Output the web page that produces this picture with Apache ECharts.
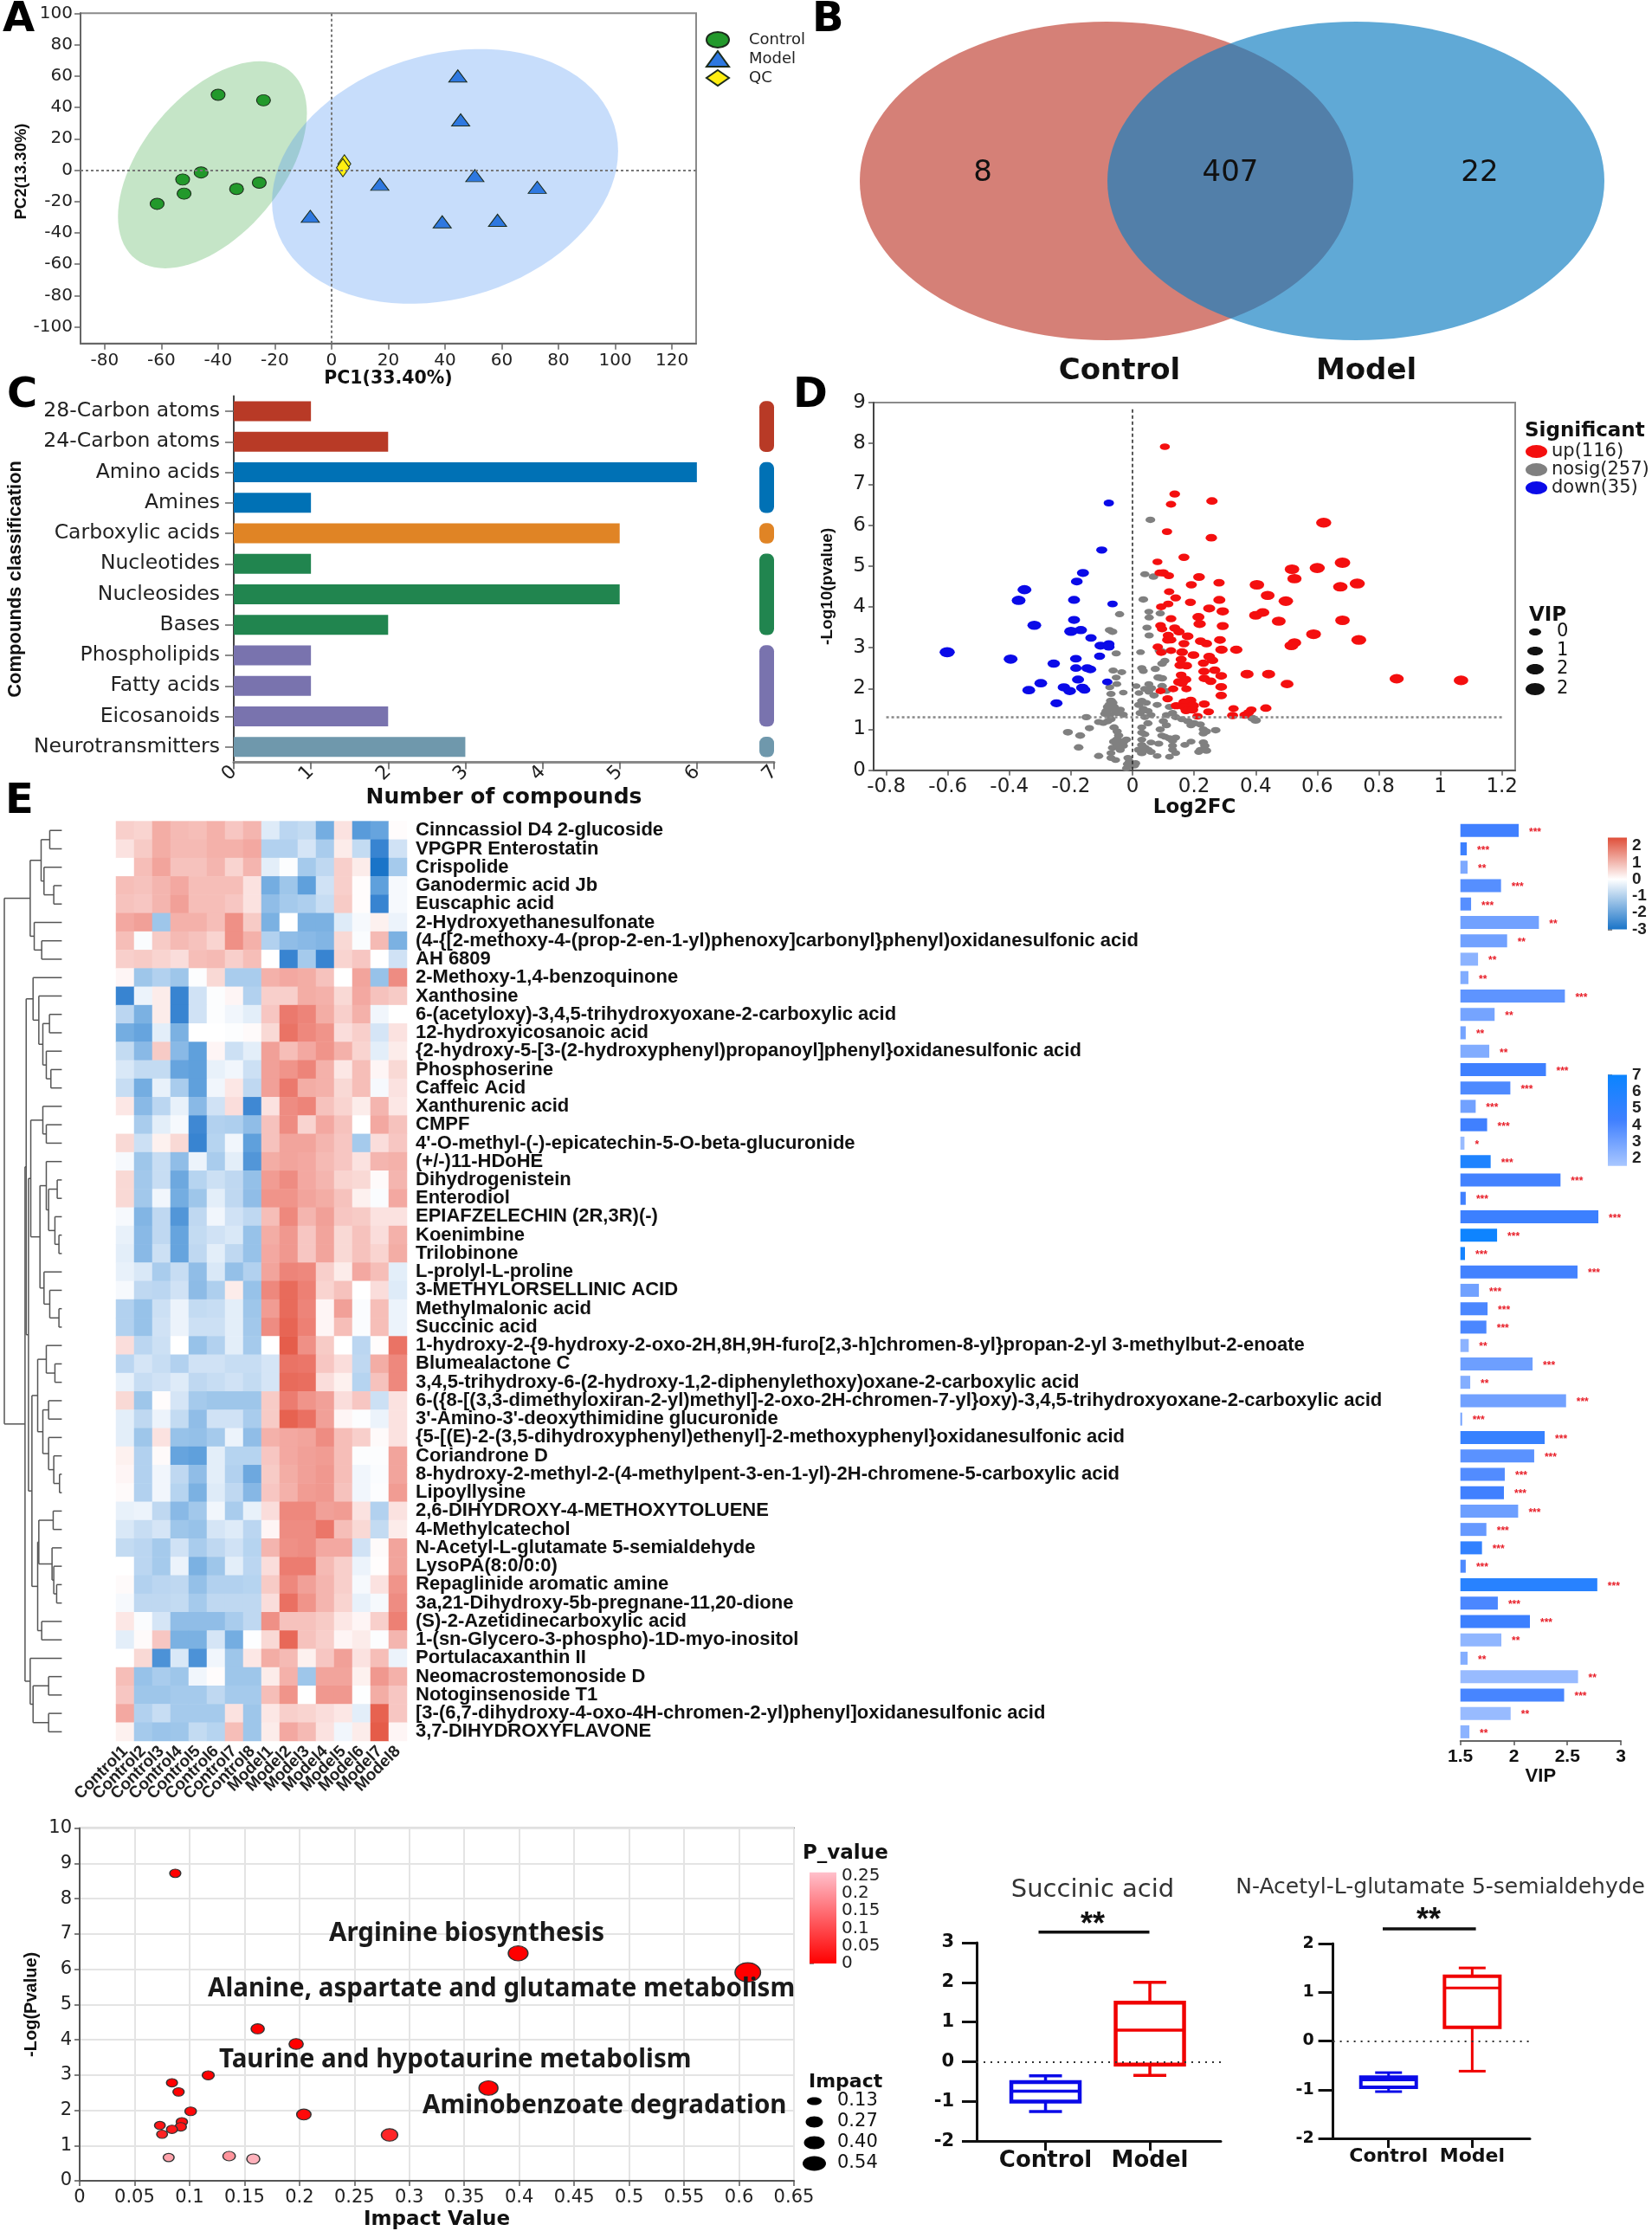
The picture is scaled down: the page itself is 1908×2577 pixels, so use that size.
<!DOCTYPE html>
<html>
<head>
<meta charset="utf-8">
<title>Metabolomics figure</title>
<script src="https://cdn.jsdelivr.net/npm/echarts@6/dist/echarts.min.js"></script>
<style>
html, body { margin: 0; padding: 0; background: #fff; }
#chart1 { width: 1908px; height: 2577px; }
</style>
</head>
<body>
<div id="chart1"></div>
<script>
// Panel A: PCA scores
const pcaControl = [[-61.5,-21.5],[-52.5,-6],[-52,-15],[-46,-1.5],[-40,48],[-24,44.5],[-33.5,-12],[-25.5,-8]];
const pcaModel = [[44.5,60],[45.5,32],[50.5,-3.5],[17,-9],[72.5,-11],[-7.5,-29.5],[39,-33],[58.5,-32]];
const pcaQC = [[4.5,4],[4,1.5]];
// confidence ellipses: centre x, centre y, half width, half height, correlation
const ellipseControl = [-42,3.4,33.3,66,0.5];
const ellipseModel = [40,-4,61,81.2,0.2];

// Panel B: venn counts
const vennCounts = [8,407,22];
const vennNames = ['Control','Model'];

// Panel C: compound classes
const classNames = ['28-Carbon atoms','24-Carbon atoms','Amino acids','Amines','Carboxylic acids','Nucleotides','Nucleosides','Bases','Phospholipids','Fatty acids','Eicosanoids','Neurotransmitters'];
const classCounts = [1,2,6,1,5,1,5,2,1,1,2,3];
const classGroups = [[0,1,'#b83a26'],[2,3,'#0071b5'],[4,4,'#e08425'],[5,7,'#21854f'],[8,10,'#7973ae'],[11,11,'#6f98ac']];

// Panel D: volcano, [log2FC, -log10p, VIP]
const upPoints = [[.105,7.92,.9],[.137,6.76,1.1],[.125,6.51,1],[.258,6.59,1.3],[.112,5.84,1],[.256,5.69,1.3],[.621,6.06,2.4],[.167,5.21,1.2],[.081,5.1,.9],[.682,5.08,2.5],[.6,4.95,2.4],[.518,4.92,2.2],[.526,4.69,2.1],[.088,4.83,1],[.1,4.83,1.2],[.118,4.76,1],[.216,4.73,1.4],[.191,4.54,1.2],[.281,4.59,1.3],[.404,4.54,2.2],[.73,4.57,2.4],[.675,4.49,2.2],[.119,4.37,1],[.439,4.28,2],[.14,4.22,1.1],[.498,4.14,2.2],[.282,4.17,1.5],[.188,4.11,1.2],[.116,4.07,1],[.093,4,1],[.249,3.96,1.5],[.293,3.89,1.6],[.423,3.86,1.8],[.4,3.79,1.8],[.214,3.75,1.5],[.125,3.71,1.1],[.475,3.65,2],[.682,3.67,2.2],[.218,3.58,1.6],[.293,3.53,1.5],[.091,3.54,1.1],[.096,3.46,1],[.137,3.48,1.2],[.151,3.39,1.3],[.116,3.3,1.2],[.588,3.33,2.3],[.179,3.28,1.4],[.114,3.19,1.2],[.125,3.19,1.1],[.284,3.19,1.4],[.221,3.16,1.3],[.526,3.12,1.9],[.735,3.19,2.3],[.24,3.1,1.3],[.167,3.1,1.2],[.516,3.05,2],[.082,3.02,1],[.289,2.95,1.6],[.337,2.95,1.6],[.125,2.93,1],[.161,2.89,1.4],[.093,2.88,1],[.198,2.82,1.4],[.249,2.78,1.4],[.158,2.71,1.2],[.26,2.69,1.3],[.23,2.62,1.2],[.154,2.57,1.2],[.175,2.56,1.3],[.232,2.42,1.3],[.267,2.45,1.3],[.372,2.35,1.8],[.442,2.35,1.8],[.288,2.31,1.4],[.158,2.33,1.1],[.233,2.25,1.3],[.172,2.22,1.4],[.151,2.16,1.4],[.858,2.24,2.1],[1.067,2.2,2.2],[.254,2.18,1.3],[.161,2.13,1.2],[.502,2.11,1.7],[.288,2.04,1.4],[.132,1.99,1],[.175,1.99,1],[.091,1.94,.9],[.288,1.83,1.3],[.114,1.75,1.1],[.189,1.71,1.3],[.167,1.67,1.2],[.233,1.62,1.2],[.142,1.58,1.2],[.196,1.58,1.5],[.167,1.55,1.2],[.433,1.52,1.3],[.328,1.51,1],[.386,1.48,1],[.174,1.46,1.2],[.195,1.48,1.3],[.247,1.43,1.1],[.377,1.41,1.1],[.325,1.34,1.2],[.211,1.32,1],[.365,1.35,1.2]];
const downPoints = [[-.077,6.54,1],[-.1,5.39,1.2],[-.161,4.83,1.5],[-.181,4.62,1.4],[-.351,4.42,2],[-.37,4.16,2],[-.19,4.17,1.5],[-.065,4.07,1],[-.19,3.68,1.5],[-.319,3.55,2],[-.168,3.43,1.6],[-.2,3.4,1.9],[-.135,3.24,1.3],[-.104,3.05,1.5],[-.077,3.09,1.3],[-.077,3.02,1.3],[-.107,2.79,1.2],[-.602,2.89,2.4],[-.396,2.72,2],[-.184,2.73,1.4],[-.256,2.61,1.6],[-.184,2.5,1.3],[-.147,2.5,1.4],[-.137,2.47,1.4],[-.177,2.22,1.5],[-.082,2.16,1],[-.298,2.13,1.7],[-.223,2.03,1.6],[-.337,1.96,1.7],[-.163,2.02,1.6],[-.204,1.94,1.6],[-.156,1.97,1.4],[-.247,1.64,1.5]];
const nosigPoints = [[.058,6.13,.8],[.04,4.8,.7],[.068,4.74,.8],[.035,4.18,.8],[-.042,3.82,.7],[.053,3.88,.6],[.054,3.74,.7],[.09,3.84,.7],[.047,3.49,.7],[-.075,3.43,.7],[-.065,3.39,.8],[.054,3.3,.7],[.026,2.89,.5],[.088,2.93,.9],[.096,2.9,1],[-.053,2.86,.7],[.105,2.68,.6],[.096,2.61,.8],[.03,2.5,.7],[.035,2.43,.6],[.074,2.48,.7],[-.063,2.44,.7],[-.035,2.4,.6],[-.053,2.27,.6],[.084,2.27,.9],[.096,2.25,.9],[-.051,2.11,.6],[.053,2.11,.6],[-.074,2.03,.6],[.012,2.06,.5],[.04,1.99,.7],[.061,2.01,.8],[.096,2.06,.8],[.11,1.94,.6],[.053,1.92,.6],[-.07,1.87,.7],[-.03,1.9,.5],[.021,1.89,.5],[.07,1.83,.7],[-.07,1.7,.9],[-.075,1.6,.9],[-.065,1.65,.9],[-.08,1.55,.9],[-.06,1.55,.8],[-.07,1.5,.9],[-.055,1.45,.8],[-.085,1.45,.8],[-.09,1.38,.7],[-.075,1.35,.8],[-.05,1.4,.7],[-.04,1.48,.7],[-.03,1.36,.6],[-.07,1.25,.7],[.03,1.7,.7],[.02,1.6,.7],[.045,1.65,.6],[.035,1.5,.7],[.025,1.4,.7],[.05,1.45,.7],[.06,1.35,.6],[.04,1.3,.6],[.08,1.6,.6],[.12,1.55,.7],[.13,1.4,.7],[.11,1.35,.6],[.14,1.3,.7],[-.15,1.3,.8],[-.14,1.03,.7],[-.11,1.18,.7],[-.095,1.16,.7],[-.08,1.2,.7],[-.06,1.05,.7],[-.05,.95,.7],[-.045,.85,.7],[-.21,.93,.9],[-.17,.85,.9],[-.175,.56,.8],[-.06,.7,.9],[-.05,.75,.9],[-.04,.65,.9],[-.03,.7,.9],[-.05,.6,.9],[-.02,.75,.7],[-.03,.6,.7],[-.04,.5,.7],[-.065,.55,.7],[-.07,.42,.6],[-.11,.35,.7],[-.07,.3,.6],[-.055,.25,.6],[-.015,.3,.6],[-.01,.22,.6],[-.015,.15,.9],[-.01,.1,.9],[.005,.12,.9],[.01,.17,.7],[-.02,.05,.5],[.03,.75,.6],[.03,.62,.7],[.04,.55,.8],[.02,.5,.8],[.05,.5,.8],[.03,.42,.8],[.06,.45,.7],[.08,.35,.5],[.12,.33,.5],[.14,.42,.6],[.13,.5,.6],[.13,.6,.6],[.085,.65,.7],[.06,.68,.6],[.14,.8,.6],[.12,.78,.7],[.17,.62,.6],[.19,.7,.6],[.23,.68,.7],[.235,.6,.7],[.22,.5,.6],[.24,.48,.8],[.215,.45,.6],[.23,.9,.7],[.24,.95,.7],[.27,.98,.8],[.23,1,.7],[.2,1.15,.8],[.18,1.2,.8],[.16,1.25,.7],[.19,1.1,.7],[.22,1.12,.7],[.4,1.22,1],[.39,1.27,1],[.11,1.1,.7],[.09,1,.7],[.1,1.2,.7],[.05,1.15,.7],[.03,1.05,.6],[.03,.92,.6],[.04,.88,.6],[.095,.85,.6],[.105,.82,.6],[.13,.72,.7]];

// Panel E: heatmap rows, dendrogram and VIP bars
const compoundNames = ['Cinncassiol D4 2-glucoside','VPGPR Enterostatin','Crispolide','Ganodermic acid Jb','Euscaphic acid','2-Hydroxyethanesulfonate','(4-{[2-methoxy-4-(prop-2-en-1-yl)phenoxy]carbonyl}phenyl)oxidanesulfonic acid','AH 6809','2-Methoxy-1,4-benzoquinone','Xanthosine','6-(acetyloxy)-3,4,5-trihydroxyoxane-2-carboxylic acid','12-hydroxyicosanoic acid','{2-hydroxy-5-[3-(2-hydroxyphenyl)propanoyl]phenyl}oxidanesulfonic acid','Phosphoserine','Caffeic Acid','Xanthurenic acid','CMPF',"4'-O-methyl-(-)-epicatechin-5-O-beta-glucuronide",'(+/-)11-HDoHE','Dihydrogenistein','Enterodiol','EPIAFZELECHIN (2R,3R)(-)','Koenimbine','Trilobinone','L-prolyl-L-proline','3-METHYLORSELLINIC ACID','Methylmalonic acid','Succinic acid','1-hydroxy-2-{9-hydroxy-2-oxo-2H,8H,9H-furo[2,3-h]chromen-8-yl}propan-2-yl 3-methylbut-2-enoate','Blumealactone C','3,4,5-trihydroxy-6-(2-hydroxy-1,2-diphenylethoxy)oxane-2-carboxylic acid','6-({8-[(3,3-dimethyloxiran-2-yl)methyl]-2-oxo-2H-chromen-7-yl}oxy)-3,4,5-trihydroxyoxane-2-carboxylic acid',"3'-Amino-3'-deoxythimidine glucuronide",'{5-[(E)-2-(3,5-dihydroxyphenyl)ethenyl]-2-methoxyphenyl}oxidanesulfonic acid','Coriandrone D','8-hydroxy-2-methyl-2-(4-methylpent-3-en-1-yl)-2H-chromene-5-carboxylic acid','Lipoyllysine','2,6-DIHYDROXY-4-METHOXYTOLUENE','4-Methylcatechol','N-Acetyl-L-glutamate 5-semialdehyde','LysoPA(8:0/0:0)','Repaglinide aromatic amine','3a,21-Dihydroxy-5b-pregnane-11,20-dione','(S)-2-Azetidinecarboxylic acid','1-(sn-Glycero-3-phospho)-1D-myo-inositol','Portulacaxanthin II','Neomacrostemonoside D','Notoginsenoside T1','[3-(6,7-dihydroxy-4-oxo-4H-chromen-2-yl)phenyl]oxidanesulfonic acid','3,7-DIHYDROXYFLAVONE'];
const sampleNames = ['Control1','Control2','Control3','Control4','Control5','Control6','Control7','Control8','Model1','Model2','Model3','Model4','Model5','Model6','Model7','Model8'];
const heatRows = [
[.5,.45,.9,.75,.7,.85,.6,.8,-.35,-.75,-.65,-1.7,.3,-2.1,-1.9,.03],
[.3,.55,.9,.75,.75,.85,.85,.95,-.85,-.85,-.45,-.95,.2,-.65,-2.6,-.5],
[0,.7,1,.65,.65,.8,.45,.8,-.3,-.03,-1,-.7,.5,.2,-3,-1],
[.7,.65,.8,.95,.7,.7,.7,.3,-1.7,-1.1,-2,-.5,.5,.03,-2,-.1],
[.65,.6,.8,1.05,.7,.7,.6,.3,-1.3,-1,-.9,-.6,.55,.03,-2.6,-.1],
[.95,1.05,-1.1,.85,.85,.7,1.25,.55,-1.6,0,-1.6,-1.6,-.35,-.1,.15,-.2],
[.7,-.05,.55,.75,.65,.45,1.25,.85,-.85,-1.3,-1.4,-1.5,.4,-.05,.75,-1.6],
[.5,.55,.45,.35,.7,.75,.5,.7,0,-2.6,-1,-2.6,.45,.6,0,-.5],
[.1,-1.1,-.85,-1.1,-.03,.4,-.95,-.95,.85,.95,.9,.65,0,1,-1.2,1.3],
[-2.6,-.2,.2,-2.6,-.5,-.03,.1,-.85,.5,.5,.9,.85,.4,.95,.65,.55],
[-.75,-1.6,.2,-2.6,-.5,-.03,-.15,-.3,.6,1.55,1.4,.9,.5,.85,-.15,0],
[-1.7,-1.9,-.3,-1.6,0,0,-.03,.05,.4,1.65,1.35,1.2,.35,.5,-.45,.3],
[-.65,-1.4,.55,-1.4,-2,.1,-.55,-.3,1.05,.7,.95,1.2,.85,.45,-.3,.2],
[-.4,-.65,-.65,-1.9,-2,-.25,-.15,-.55,1.05,1.2,1.4,.85,.25,.7,.1,.4],
[-.6,-1.7,-.25,-.95,-2,-.15,.25,-.7,1.05,1.55,.9,.85,.4,.7,-.1,.3],
[.25,-1.4,-.75,-.25,-1.4,-.5,.35,-2.5,.3,1.3,1.4,.65,.45,.2,.8,.25],
[0,-.95,-.3,-.1,-2.5,-.85,-.9,-1.3,.65,1.3,.45,.95,.65,0,.95,.65],
[.4,-.55,.15,.4,-2.6,-.8,-.15,-2,.65,1,1,.8,.6,-1,.35,.6],
[-.1,-1.1,-.6,-1.3,-.2,-.95,-.3,-2.2,.9,1,.95,.75,.6,.3,.8,.85],
[.4,-1.05,-.6,-1.8,-.8,-.55,-.7,-1.25,1.1,1.3,.95,.8,.45,.4,.05,.8],
[.4,-1.05,-.15,-1.7,-1.1,-.3,-.7,-1.3,1.2,1.2,1,.9,.65,.15,-.05,.95],
[-.1,-1.5,-.7,-2.2,-.7,-.15,-.5,-.7,.7,1.35,.8,1.05,.6,.55,.3,.3],
[-.25,-1.4,-.7,-1.9,-.65,-.5,-.4,-1.2,.9,1.15,.6,1,.4,.65,.35,.85],
[-.3,-1.4,-.55,-1.9,-.7,-.3,-.7,-1.2,.95,1.15,.6,1,.4,.65,.45,.9],
[-.25,-.4,-.95,-.6,-1.3,-.4,-1.25,-.85,1,1.4,1.35,.5,.2,.95,.7,-.3],
[-.1,-.7,-.75,-.5,-1.35,-.9,.2,-1.2,1.35,1.8,1.45,.45,.65,0,.35,-.35],
[-.85,-1.2,-.55,-.2,-.65,-.6,-.3,-1.1,1.1,1.8,1.4,.1,1.05,-.05,.7,-.2],
[-.85,-1.2,-.5,-.2,-.55,-.55,-.3,-1.05,1.3,1.9,1.45,.1,.7,-.05,.7,-.2],
[.35,-.75,-.55,0,-1.2,-.85,-.3,-1,0,2.05,1.25,.55,0,-.75,.03,1.65],
[-.75,-.45,-.6,-.85,-.5,-.5,-.6,-.6,-.45,1.65,1.6,.6,.35,-.7,.9,1.35],
[-.25,-.6,-.5,-.35,-.7,-.6,-.5,-.65,-.45,1.8,1.75,.35,.15,-.8,.65,1.35],
[.4,-1.1,.03,-.45,-1,-1.1,-1.1,-1.1,.55,1.5,1.2,1.05,.35,.6,-.55,.3],
[-.3,-.7,-.2,-.65,-1.3,-.5,-.5,-.95,.55,1.95,1.7,1.05,.1,-.03,-.2,.3],
[-.3,-1.1,.3,-1.2,-1.25,-1,-.2,-1.3,.85,.95,1,1.3,.7,.5,.05,.3],
[.15,-.85,.05,-1.9,-2,-.3,-.8,-.8,.6,.95,1.05,1.1,.7,-.03,-.03,1],
[.1,-.85,-.15,-.7,-1.3,-.3,-.85,-1.8,.55,.9,1.05,1.15,.7,-.15,-.05,1],
[.05,-.85,-.15,-.8,-1.6,-.35,-.7,-1.45,.6,.85,1.1,1.15,.65,-.15,-.03,1.1],
[-.25,-.2,-.7,-1.4,-1.05,-.15,-.95,-.25,.35,1.35,1.35,1.05,1.1,.3,-.85,.3],
[-.4,-.6,-.45,-1.1,-1.2,-.45,-.35,-.75,.1,1.3,1.3,1.6,.7,.4,-.65,.2],
[-.65,-.75,-1,-.5,-.95,-.7,-.5,-.8,.8,1.25,1.3,.95,.95,-.5,.05,1],
[0,-.75,-1,-.2,-1.6,-1.1,-.3,-.75,.35,1.5,1.5,.75,.5,-.2,.02,1],
[.05,-.85,-.75,-.7,-1.25,-.85,-.85,-.8,.55,1.35,1.05,.8,.5,-.1,.3,1.2],
[-.1,-.7,-.7,-.65,-1,-.7,-.7,-.7,.35,1.7,1.2,.8,.45,-.25,-.1,1.3],
[.25,-.05,-.45,-1.3,-1.3,-1.3,-.95,-.7,1.25,.65,.65,.55,.25,.1,.5,1.45],
[-.3,.05,.6,-1.6,-1.6,-.45,-1.7,-.02,.4,1.85,.65,.5,.1,.2,-.03,.8],
[0,.4,-2.3,-.4,-2.3,-.15,-1.1,.25,.9,.75,.15,.6,1.05,.3,.7,-.2],
[.7,-1.2,-.95,-1.1,-.15,.03,-1.1,-1.1,.2,.85,-1.1,1,1,.15,1.15,.85],
[.6,-1.1,-1.1,-1,-1,-.7,-1,-1,.7,1.2,0,1.15,1.15,-.02,.9,.6],
[.95,-.85,-.6,-1,-1,-1,.3,-1.1,.25,.5,.45,.35,.25,-.3,1.95,.6],
[.15,-1,-1.15,-1.1,-.65,-.8,.7,-1.1,.2,.95,.75,.3,-.15,.2,2.1,.1]
];
// nested merges: [height, left, right], a plain number is a row (1 based)
const dendroTree = [1,
  [.55, [.36,[.21,1,2],[.31,3,[.14,4,5]]], [.48,6,[.35,7,8]]],
  [.64,
    [.62,
      [.5,9,[.4,10,[.33,[.215,11,12],[.27,13,[.19,14,15]]]]],
      [.58,
        [.54,[.33,16,[.27,17,18]],[.38,[.27,19,[.23,[.08,20,21],[.12,22,[.05,23,24]]]],[.31,25,[.21,26,[.05,27,28]]]]],
        [.52,[.42,[.27,29,[.12,30,31]],[.33,[.23,32,33],[.23,34,[.14,35,[.04,36,37]]]]],[.42,[.4,[.15,38,39],[.17,40,[.14,41,[.09,42,43]]]],[.35,44,45]]]
      ]
    ],
    [.55,46,[.5,[.23,47,48],[.23,49,50]]]
  ]
];
const vipValues = [2.045,1.56,1.567,1.88,1.6,2.234,1.937,1.665,1.575,2.477,1.82,1.55,1.77,2.3,1.967,1.643,1.75,1.538,1.783,2.436,1.55,2.79,1.843,1.543,2.595,1.673,1.754,1.743,1.578,2.175,1.592,2.488,1.516,2.288,2.19,1.915,1.907,2.04,1.743,1.702,1.55,2.78,1.85,2.15,1.883,1.567,2.6,2.47,1.97,1.584];
const vipShade = [4.3,4.5,2.7,3.7,3.7,3,3,2.3,2.6,3.5,2.9,2.9,2.6,4.4,3.9,3,4.3,2,6,4.2,4.3,4.5,6.8,6.5,4.2,3,4,4,2.3,3.1,2.5,3,3,4.8,3.6,3.8,4.3,3.1,3.3,5,3.9,5.5,4,4.5,2.2,2.5,2,4.1,2,2.3];
const vipStars = ['***','***','**','***','***','**','**','**','**','***','**','**','**','***','***','***','***','*','***','***','***','***','***','***','***','***','***','***','**','***','**','***','***','***','***','***','***','***','***','***','***','***','***','***','**','**','**','***','**','**'];

// Bottom left: pathway bubbles
const pathwayImpact = [.087,.399,.608,.162,.197,.117,.084,.09,.372,.101,.204,.073,.093,.092,.084,.075,.282,.081,.136,.158];
const pathwayLogP = [8.72,6.45,5.91,4.31,3.88,2.99,2.78,2.52,2.63,1.97,1.88,1.57,1.67,1.53,1.46,1.32,1.3,.66,.7,.62];
const pathwayP = [0,0,0,0,0,.001,.002,.003,.002,.011,.013,.027,.021,.03,.035,.048,.05,.219,.2,.24];
const pathwayNames = ['Arginine biosynthesis','Alanine, aspartate and glutamate metabolism','Taurine and hypotaurine metabolism','Aminobenzoate degradation'];
const impactLegend = ['0.13','0.27','0.40','0.54'];

// Bottom right: box plots, [group, min, q1, median, q3, max]
const groupNames = ['Control','Model'];
const succinicBoxes = [[0,-1.25,-1,-.74,-.51,-.35],[1,-.34,-.07,.8,1.49,2]];
const glutamateBoxes = [[0,-1.04,-.95,-.8,-.74,-.65],[1,-.62,.28,1.09,1.33,1.5]];

const SANS = 'DejaVu Sans';
const ARIAL = 'Liberation Sans';
const ELLIPSE = 'path://M0 50A50 50 0 1 1 100 50A50 50 0 1 1 0 50Z';
const HEAT_COLORS = ['#1a74c8','#3f88d3','#5fa0dc','#82b5e4','#a5caec','#d0e2f5','#ffffff','#f8cfcb','#f2a49c','#ec7c70','#e65f4d','#df4f3a'];

const grids = [], xAxes = [], yAxes = [], seriesList = [], visualMaps = [], legends = [], elements = [];

const addPanel = (rect, xAxis, yAxis) => {
    const i = grids.length;
    grids.push(Object.assign({ containLabel: false }, rect));
    xAxes.push(Object.assign({ gridIndex: i }, xAxis));
    yAxes.push(Object.assign({ gridIndex: i }, yAxis));
    return i;
};
const txt = (x, y, text, font, extra) => {
    elements.push({
        type: 'text', silent: true, z: 100,
        style: Object.assign({ x, y, text, font, fill: '#111', textAlign: 'left', textVerticalAlign: 'middle' }, extra || {})
    });
};
const axisFont = (size, family, weight) => ({ fontFamily: family || SANS, fontSize: size, color: '#222', fontWeight: weight || 'normal' });
const nameFont = (size, family, padding) => ({ fontFamily: family || ARIAL, fontSize: size, fontWeight: 'bold', color: '#111', padding: padding || 0 });
const line = (color, width) => ({ show: true, onZero: false, lineStyle: { color, width } });
const tick = (length, color, width, values) => ({ show: true, length, lineStyle: { color, width }, customValues: values });

// ---- Panel A
const buildPca = () => {
    const xv = [-80,-60,-40,-20,0,20,40,60,80,100,120];
    const yv = [-100,-80,-60,-40,-20,0,20,40,60,80,100];
    const g = addPanel({ left: 93, top: 15.3, width: 711, height: 381.4, show: true, borderColor: '#8a8a8a', borderWidth: 2 }, {
        type: 'value', min: -88.5, max: 128.5, splitLine: { show: false },
        axisLine: line('#666', 2), axisTick: tick(7, '#666', 1.5, xv),
        axisLabel: Object.assign(axisFont(20), { customValues: xv, margin: 10 }),
        name: 'PC1(33.40%)', nameLocation: 'middle', nameGap: 24, nameTextStyle: nameFont(20.5, SANS)
    }, {
        type: 'value', min: -110.5, max: 100, splitLine: { show: false },
        axisLine: line('#666', 2), axisTick: tick(7, '#666', 1.5, yv),
        axisLabel: Object.assign(axisFont(20), { customValues: yv, margin: 9 }),
        name: 'PC2(13.30%)', nameLocation: 'middle', nameGap: 58, nameTextStyle: nameFont(18.5, ARIAL, [0, 0, 0, 16])
    });
    const ellipse = (p, fill) => ({
        type: 'custom', xAxisIndex: g, yAxisIndex: g, silent: true, data: [[p[0], p[1]]], z: 1, clip: true,
        renderItem: (params, api) => {
            const points = [];
            for (let k = 0; k < 90; k++) {
                const t = k / 90 * Math.PI * 2;
                points.push(api.coord([
                    p[0] + p[2] * Math.cos(t),
                    p[1] + p[3] * (p[4] * Math.cos(t) + Math.sqrt(1 - p[4] * p[4]) * Math.sin(t))
                ]));
            }
            return { type: 'polygon', shape: { points }, style: { fill } };
        }
    });
    seriesList.push(ellipse(ellipseControl, 'rgba(76,175,80,0.32)'));
    seriesList.push(ellipse(ellipseModel, 'rgba(68,141,241,0.30)'));
    const border = { borderColor: '#1c2b1c', borderWidth: 1 };
    seriesList.push({
        type: 'scatter', name: 'Control', xAxisIndex: g, yAxisIndex: g, data: pcaControl, z: 4,
        symbol: ELLIPSE, symbolSize: [16, 13], itemStyle: Object.assign({ color: '#22992b', opacity: 1 }, border),
        markLine: {
            silent: true, symbol: 'none', label: { show: false }, animation: false,
            lineStyle: { color: '#777', type: [3, 3], width: 2 },
            data: [{ xAxis: 0 }, { yAxis: 0 }]
        }
    });
    seriesList.push({
        type: 'scatter', name: 'Model', xAxisIndex: g, yAxisIndex: g, data: pcaModel, z: 4,
        symbol: 'triangle', symbolSize: [21, 14], itemStyle: Object.assign({ color: '#2e78e0', opacity: 1 }, border)
    });
    seriesList.push({
        type: 'scatter', name: 'QC', xAxisIndex: g, yAxisIndex: g, data: pcaQC, z: 4,
        symbol: 'diamond', symbolSize: [15, 21], itemStyle: Object.assign({ color: '#ffee11', opacity: 1 }, border)
    });
    legends.push({
        left: 810, top: 31, orient: 'vertical', selectedMode: false, itemGap: 2, itemWidth: 26, itemHeight: 18, symbolKeepAspect: false,
        textStyle: { fontFamily: SANS, fontSize: 18, color: '#222', padding: [0, 0, 0, 18] },
        data: [{ name: 'Control', icon: ELLIPSE }, { name: 'Model', icon: 'triangle' }, { name: 'QC', icon: 'diamond' }]
    });
};

// ---- Panel B
const buildVenn = () => {
    elements.push({ type: 'ellipse', silent: true, shape: { cx: 1278, cy: 209, rx: 285, ry: 184 }, style: { fill: '#d58077' } });
    elements.push({ type: 'ellipse', silent: true, shape: { cx: 1566, cy: 209, rx: 287, ry: 184 }, style: { fill: 'rgba(18,127,194,0.67)' } });
    const f = '34px "' + SANS + '"';
    [1135, 1421, 1709].forEach((x, i) => txt(x, 200, String(vennCounts[i]), f, { textAlign: 'center' }));
    const b = 'bold 34px "' + SANS + '"';
    txt(1293, 429, vennNames[0], b, { textAlign: 'center' });
    txt(1578, 429, vennNames[1], b, { textAlign: 'center' });
};

// ---- Panel C
const buildClasses = () => {
    const g = addPanel({ left: 270, top: 457.4, width: 624, height: 423 }, {
        type: 'value', min: 0, max: 7, interval: 1, splitLine: { show: false },
        axisLine: line('#888', 3), axisTick: { show: true, length: 8, lineStyle: { color: '#555', width: 1.5 } },
        axisLabel: Object.assign(axisFont(22), { rotate: 45, margin: 8 }),
        name: 'Number of compounds', nameLocation: 'middle', nameGap: 27, nameTextStyle: nameFont(25, SANS)
    }, {
        type: 'category', inverse: true, data: classNames,
        axisLine: line('#444', 2), axisTick: { show: true, length: 10, alignWithLabel: true, lineStyle: { color: '#666', width: 1.5 } },
        axisLabel: Object.assign(axisFont(23.5), { margin: 16, interval: 0 }),
        name: 'Compounds classification', nameLocation: 'middle', nameGap: 241, nameTextStyle: nameFont(22)
    });
    const colorOf = (i) => classGroups.find((c) => i >= c[0] && i <= c[1])[2];
    seriesList.push({
        type: 'bar', xAxisIndex: g, yAxisIndex: g, barWidth: 23,
        data: classCounts.map((v, i) => ({ value: v, itemStyle: { color: colorOf(i) } }))
    });
    seriesList.push({
        type: 'custom', xAxisIndex: g, yAxisIndex: g, silent: true, clip: false,
        data: classGroups.map((c) => [7, c[0]]),
        renderItem: (params, api) => {
            const c = classGroups[params.dataIndex];
            const a = api.coord([6.81, c[0]]), b = api.coord([7, c[1]]);
            return {
                type: 'rect',
                shape: { x: a[0], y: a[1] - 11.7, width: b[0] - a[0], height: b[1] - a[1] + 23.4, r: 7 },
                style: { fill: c[2] }
            };
        }
    });
};

// ---- Panel D
const buildVolcano = () => {
    const xv = [-.8,-.6,-.4,-.2,0,.2,.4,.6,.8,1,1.2];
    const g = addPanel({ left: 1009, top: 465, width: 741, height: 424.7, show: true, borderColor: '#8a8a8a', borderWidth: 2 }, {
        type: 'value', min: -.841, max: 1.243, splitLine: { show: false },
        axisLine: line('#555', 2), axisTick: tick(6, '#555', 1.5, xv),
        axisLabel: Object.assign(axisFont(23), { customValues: xv, margin: 8, formatter: (v) => String(+v.toFixed(1)) }),
        name: 'Log2FC', nameLocation: 'middle', nameGap: 23, nameTextStyle: nameFont(23, SANS)
    }, {
        type: 'value', min: 0, max: 9, interval: 1, splitLine: { show: false },
        axisLine: line('#444', 2), axisTick: { show: true, length: 6, lineStyle: { color: '#555', width: 1.5 } },
        axisLabel: Object.assign(axisFont(23), { margin: 9 }),
        name: '-Log10(pvalue)', nameLocation: 'middle', nameGap: 44, nameTextStyle: nameFont(19)
    });
    const dotSize = (v) => [8 + 4 * v[2], (8 + 4 * v[2]) * 0.66];
    const dots = (name, data, color, z) => ({
        type: 'scatter', name, xAxisIndex: g, yAxisIndex: g, data, z,
        symbol: ELLIPSE, symbolSize: dotSize, itemStyle: { color, opacity: 1 }
    });
    const s = dots('nosig(257)', nosigPoints, '#808080', 3);
    s.markLine = {
        silent: true, symbol: 'none', label: { show: false }, animation: false,
        data: [
            [{ coord: [0, 0], lineStyle: { color: '#222', type: [4, 3], width: 1.5 } }, { coord: [0, 8.9] }],
            [{ coord: [-.8, 1.3], lineStyle: { color: '#888', type: [3, 3], width: 2.5 } }, { coord: [1.2, 1.3] }]
        ]
    };
    seriesList.push(s);
    seriesList.push(dots('up(116)', upPoints, '#f40f0f', 4));
    seriesList.push(dots('down(35)', downPoints, '#0a0ae8', 4));
    legends.push({
        left: 1757, top: 506, orient: 'vertical', selectedMode: false, itemGap: 0, itemWidth: 25, itemHeight: 15, symbolKeepAspect: false,
        textStyle: { fontFamily: SANS, fontSize: 21, color: '#222' },
        data: [
            { name: 'up(116)', icon: ELLIPSE }, { name: 'nosig(257)', icon: ELLIPSE }, { name: 'down(35)', icon: ELLIPSE }
        ]
    });
    txt(1761, 498, 'Significant', 'bold 23px "' + SANS + '"');
    txt(1766, 711, 'VIP', 'bold 23px "' + SANS + '"');
    [[730,7,4,'0'],[752,9,5,'1'],[773,10,6,'2'],[796,11,7,'2']].forEach((r) => {
        elements.push({ type: 'ellipse', silent: true, shape: { cx: 1773, cy: r[0], rx: r[1], ry: r[2] }, style: { fill: '#111' } });
        txt(1798, r[0], r[3], '21px "' + SANS + '"');
    });
};

// ---- Panel E
const dendroSegments = () => {
    const segs = [];
    const walk = (node) => {
        if (typeof node === 'number') return [0, node - 0.5];
        const a = walk(node[1]), b = walk(node[2]);
        segs.push([a[0], a[1], node[0], a[1]], [b[0], b[1], node[0], b[1]], [node[0], a[1], node[0], b[1]]);
        return [node[0], (a[1] + b[1]) / 2];
    };
    walk(dendroTree);
    return segs;
};
const buildHeat = () => {
    const g = addPanel({ left: 134, top: 948.6, width: 336, height: 1062.4 }, {
        type: 'category', data: sampleNames, axisLine: { show: false }, axisTick: { show: false }, splitArea: { show: false },
        axisLabel: Object.assign(axisFont(19, ARIAL, 'bold'), { rotate: 45, interval: 0, margin: 9 })
    }, {
        type: 'category', inverse: true, position: 'right', data: compoundNames, axisLine: { show: false }, axisTick: { show: false }, splitArea: { show: false },
        axisLabel: Object.assign(axisFont(22, ARIAL, 'bold'), { interval: 0, margin: 10, color: '#111' })
    });
    const cells = [];
    heatRows.forEach((row, r) => row.forEach((v, c) => cells.push([c, r, v])));
    visualMaps.push({
        show: false, type: 'continuous', seriesIndex: seriesList.length, dimension: 2, min: -3, max: 2.5,
        inRange: { color: HEAT_COLORS }
    });
    seriesList.push({ type: 'heatmap', xAxisIndex: g, yAxisIndex: g, data: cells, progressive: 0 });

    const d = addPanel({ left: 5, top: 948.6, width: 66.4, height: 1062.4 },
        { type: 'value', min: 0, max: 1, inverse: true, show: false },
        { type: 'value', min: 0, max: 50, inverse: true, show: false });
    seriesList.push({
        type: 'custom', xAxisIndex: d, yAxisIndex: d, silent: true, clip: false, data: dendroSegments(),
        renderItem: (params, api) => {
            const a = api.coord([api.value(0), api.value(1)]), b = api.coord([api.value(2), api.value(3)]);
            return { type: 'line', shape: { x1: a[0], y1: a[1], x2: b[0], y2: b[1] }, style: { stroke: '#555', lineWidth: 1.5 } };
        }
    });

    const v = addPanel({ left: 1686.7, top: 948.6, width: 185.3, height: 1062.4 }, {
        type: 'value', min: 1.5, max: 3, interval: .5, splitLine: { show: false },
        axisLine: line('#666', 2), axisTick: { show: true, length: 5, lineStyle: { color: '#555', width: 1.5 } },
        axisLabel: Object.assign(axisFont(21, ARIAL, 'bold'), { margin: 8, color: '#111' }),
        name: 'VIP', nameLocation: 'middle', nameGap: 27, nameTextStyle: nameFont(22)
    }, {
        type: 'category', inverse: true, data: compoundNames, show: false
    });
    visualMaps.push({
        show: false, type: 'continuous', seriesIndex: seriesList.length, dimension: 2, min: 1.55, max: 7,
        inRange: { color: ['#a9c7ff', '#4080ff', '#0a84ff'] }
    });
    seriesList.push({
        type: 'bar', xAxisIndex: v, yAxisIndex: v, barWidth: 15, encode: { x: 0, y: 1 },
        data: vipValues.map((x, i) => [x, i, vipShade[i]]),
        label: {
            show: true, position: 'right', distance: 12, offset: [0, 2], color: '#e8202a', fontFamily: ARIAL, fontSize: 12, fontWeight: 'bold',
            formatter: (p) => vipStars[p.dataIndex]
        }
    });

    colorBar(1857, 967.5, 22, 106, -3, 2.5, [-3,-2,-1,0,1,2],
        [{ offset: 0, color: '#df4f3a' }, { offset: .4545, color: '#ffffff' }, { offset: 1, color: '#1a74c8' }], axisFont(19, ARIAL, 'bold'));
    colorBar(1857, 1241.4, 22, 105.4, 1.55, 7, [2,3,4,5,6,7],
        [{ offset: 0, color: '#0a84ff' }, { offset: .5, color: '#4080ff' }, { offset: 1, color: '#a9c7ff' }], axisFont(19, ARIAL, 'bold'));
};
const colorBar = (left, top, width, height, min, max, values, stops, font) => {
    const g = addPanel({ left, top, width, height },
        { type: 'value', min: 0, max: 1, show: false },
        {
            type: 'value', min, max, position: 'right', splitLine: { show: false }, axisLine: { show: false },
            axisTick: tick(5, '#666', 1.5, values),
            axisLabel: Object.assign(font, { customValues: values, margin: 6 })
        });
    seriesList.push({
        type: 'custom', xAxisIndex: g, yAxisIndex: g, silent: true, clip: false, data: [[0, min]],
        renderItem: (params, api) => {
            const a = api.coord([0, max]), b = api.coord([1, min]);
            return {
                type: 'rect', shape: { x: a[0], y: a[1], width: b[0] - a[0], height: b[1] - a[1] },
                style: { fill: new echarts.graphic.LinearGradient(0, 0, 0, 1, stops) }
            };
        }
    });
};

// ---- Pathway bubbles
const buildPathway = () => {
    const g = addPanel({ left: 92, top: 2111.7, width: 825, height: 417, show: true, borderColor: '#777', borderWidth: 2 }, {
        type: 'value', min: 0, max: .65, interval: .05,
        splitLine: { show: true, lineStyle: { color: '#e4e4e4', width: 2 } },
        axisLine: line('#555', 2), axisTick: { show: true, length: 6, lineStyle: { color: '#555', width: 1.5 } },
        axisLabel: Object.assign(axisFont(21), { margin: 9, formatter: (v) => String(+v.toFixed(2)) }),
        name: 'Impact Value', nameLocation: 'middle', nameGap: 34, nameTextStyle: nameFont(23, SANS)
    }, {
        type: 'value', min: 0, max: 10, interval: 1,
        splitLine: { show: true, lineStyle: { color: '#e4e4e4', width: 2 } },
        axisLine: line('#555', 2), axisTick: { show: true, length: 6, lineStyle: { color: '#555', width: 1.5 } },
        axisLabel: Object.assign(axisFont(21), { margin: 9 }),
        name: '-Log(Pvalue)', nameLocation: 'middle', nameGap: 46, nameTextStyle: nameFont(20)
    });
    visualMaps.push({
        show: false, type: 'continuous', seriesIndex: seriesList.length, dimension: 2, min: 0, max: .26,
        inRange: { color: ['#ff0000', '#ffc0cb'] }
    });
    seriesList.push({
        type: 'scatter', xAxisIndex: g, yAxisIndex: g, z: 4,
        data: pathwayImpact.map((x, i) => [x, pathwayLogP[i], pathwayP[i]]),
        symbol: ELLIPSE,
        symbolSize: (v) => [10 + v[0] * 32, (10 + v[0] * 32) * 0.76],
        itemStyle: { borderColor: '#333', borderWidth: 1.3, opacity: 1 }
    });
    const f = 'bold 29.5px "Noto Sans"';
    [[380,2234],[240,2298],[253,2380],[488,2433]].forEach((p, i) => txt(p[0], p[1], pathwayNames[i], f, { fill: '#1a1a1a' }));

    txt(927, 2141, 'P_value', 'bold 23px "' + SANS + '"');
    const vals = [0,.05,.1,.15,.2,.25];
    colorBar(935, 2162.7, 31, 105.3, 0, .26, vals,
        [{ offset: 0, color: '#ffc0cb' }, { offset: 1, color: '#ff0000' }], axisFont(20));
    txt(934, 2405, 'Impact', 'bold 22px "' + SANS + '"');
    [[2427,8.5,4.5],[2451,10,6.5],[2475,12,7.5],[2499,13.5,8.5]].forEach((r, i) => {
        elements.push({ type: 'ellipse', silent: true, shape: { cx: 940.5, cy: r[0], rx: r[1], ry: r[2] }, style: { fill: '#000' } });
        txt(967, r[0], impactLegend[i], '21px "' + SANS + '"');
    });
};

// ---- Box plots
const buildBox = (rect, xMin, xMax, yMin, yMax, boxes, boxW, capW, lw, tickFont, catFont, tickGap) => {
    const g = addPanel(rect, {
        type: 'value', min: xMin, max: xMax, splitLine: { show: false },
        axisLine: line('#111', 3), axisTick: tick(11, '#111', 3, [0, 1]),
        axisLabel: Object.assign(axisFont(catFont, SANS, 'bold'), { customValues: [0, 1], margin: 10, color: '#111', formatter: (v) => groupNames[v] })
    }, {
        type: 'value', min: yMin, max: yMax, interval: 1, splitLine: { show: false },
        axisLine: line('#111', 3), axisTick: { show: true, length: 17, lineStyle: { color: '#111', width: 3 } },
        axisLabel: Object.assign(axisFont(tickFont, SANS, 'bold'), { margin: tickGap, color: '#111' })
    });
    seriesList.push({
        type: 'custom', xAxisIndex: g, yAxisIndex: g, silent: true, clip: false, data: boxes,
        markLine: {
            silent: true, symbol: 'none', label: { show: false }, animation: false,
            lineStyle: { color: '#333', type: [2, 6], width: 2 }, data: [{ yAxis: 0 }]
        },
        renderItem: (params, api) => {
            const stroke = params.dataIndex === 0 ? '#0a0ae8' : '#f00000';
            const x = api.coord([api.value(0), 0])[0];
            const y = [1, 2, 3, 4, 5].map((k) => api.coord([0, api.value(k)])[1]);
            const seg = (x1, y1, x2, y2) => ({
                type: 'line', shape: { x1, y1, x2, y2 }, style: { stroke, lineWidth: lw }
            });
            return {
                type: 'group',
                children: [
                    seg(x, y[0], x, y[1]), seg(x, y[3], x, y[4]),
                    seg(x - capW / 2, y[0], x + capW / 2, y[0]), seg(x - capW / 2, y[4], x + capW / 2, y[4]),
                    { type: 'rect', shape: { x: x - boxW / 2, y: y[3], width: boxW, height: y[1] - y[3] }, style: { fill: 'none', stroke, lineWidth: lw + 1 } },
                    seg(x - boxW / 2, y[2], x + boxW / 2, y[2])
                ]
            };
        }
    });
};
const buildBoxes = () => {
    buildBox({ left: 1128, top: 2244, width: 282, height: 229.3 }, -.66, 1.68, -2, 3, succinicBoxes, 79, 38, 3.5, 21, 26, 26);
    buildBox({ left: 1539.6, top: 2245, width: 227.4, height: 225 }, -.664, 1.69, -2, 2, glutamateBoxes, 64, 31, 3, 19, 22, 22);
    txt(1262, 2183, 'Succinic acid', '29px "' + SANS + '"', { textAlign: 'center', fill: '#333' });
    txt(1663.6, 2180, 'N-Acetyl-L-glutamate 5-semialdehyde', '25px "' + SANS + '"', { textAlign: 'center', fill: '#333' });
    [[1262, 2224, 1199.5, 1327.5, 2231.7], [1650, 2219, 1597, 1704.6, 2228]].forEach((b) => {
        txt(b[0], b[1], '**', 'bold 36px "' + ARIAL + '"', { textAlign: 'center' });
        elements.push({ type: 'line', silent: true, shape: { x1: b[2], y1: b[4], x2: b[3], y2: b[4] }, style: { stroke: '#111', lineWidth: 3.5 } });
    });
};

const getOptionChart1 = () => {
    buildPca();
    buildVenn();
    buildClasses();
    buildVolcano();
    buildHeat();
    buildPathway();
    buildBoxes();
    const letter = 'bold 48px "' + SANS + '"';
    [['A',3,24],['B',938,24],['C',8,458],['D',916,458],['E',6,927]].forEach((l) => txt(l[1], l[2], l[0], letter, { fill: '#000' }));
    return {
        animation: false,
        backgroundColor: '#fff',
        grid: grids, xAxis: xAxes, yAxis: yAxes, series: seriesList,
        visualMap: visualMaps, legend: legends,
        graphic: { elements }
    };
};

let chart1;
document.addEventListener('DOMContentLoaded', function () {
    chart1 = echarts.init(document.getElementById('chart1'));
    chart1.setOption(getOptionChart1());
});
</script>
</body>
</html>
